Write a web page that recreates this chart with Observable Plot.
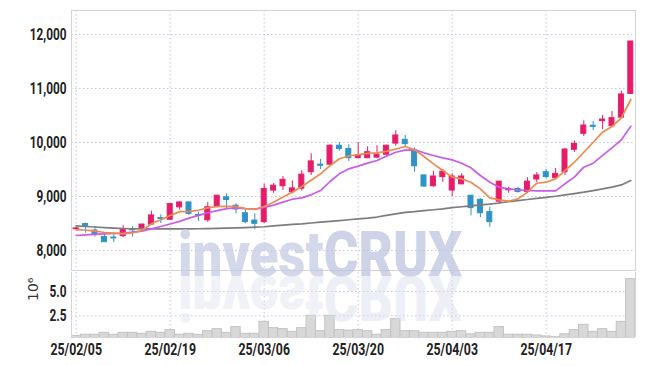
<!DOCTYPE html>
<html><head><meta charset="utf-8">
<script src="https://cdn.jsdelivr.net/npm/d3@7"></script>
<script src="https://cdn.jsdelivr.net/npm/@observablehq/plot@0.6"></script>
<style>
html,body{margin:0;padding:0;background:#fff;}
#wrap{position:relative;width:645px;height:366px;overflow:hidden;background:#fff;}
#wrap svg{display:block;}
#wm{position:absolute;left:0;top:0;pointer-events:none;}
</style></head><body><div id="wrap"></div>
<script>
// ---- data ----
const dates = ["25/02/05","25/02/06","25/02/07","25/02/10","25/02/11","25/02/12","25/02/13","25/02/14","25/02/17","25/02/18",
"25/02/19","25/02/20","25/02/21","25/02/24","25/02/25","25/02/26","25/02/27","25/02/28","25/03/04","25/03/05",
"25/03/06","25/03/07","25/03/10","25/03/11","25/03/12","25/03/13","25/03/14","25/03/17","25/03/18","25/03/19",
"25/03/20","25/03/21","25/03/24","25/03/25","25/03/26","25/03/27","25/03/28","25/03/31","25/04/01","25/04/02",
"25/04/03","25/04/04","25/04/07","25/04/08","25/04/09","25/04/10","25/04/11","25/04/14","25/04/15","25/04/16",
"25/04/17","25/04/18","25/04/21","25/04/22","25/04/23","25/04/24","25/04/25","25/04/28","25/04/29","25/04/30"];
const open  = [8395,8490,8370,8250,8240,8265,8390,8415,8480,8600, 8570,8800,8890,8660,8560,8815,8985,8830,8690,8555,
               8525,9110,9190,9080,9145,9450,9590,9590,9940,9880, 9710,9710,9720,9775,9980,10050,9850,9390,9190,9360,
               9110,9225,9015,8940,8710,8905,9115,9140,9085,9315, 9450,9340,9450,9865,10160,10310,10395,10300,10460,10900];
const high  = [8430,8505,8445,8320,8300,8460,8440,8490,8730,8660, 8870,8900,8900,8710,8890,9020,9050,8865,8745,8680,
               9230,9240,9370,9290,9480,9790,9685,9960,10000,9960, 10000,9920,9940,9950,10220,10130,9900,9400,9465,9500,
               9420,9420,9020,8960,8800,9280,9170,9170,9350,9445, 9500,9520,9890,10030,10400,10390,10500,10575,10950,11870];
const low   = [8380,8320,8250,8150,8150,8240,8250,8380,8470,8500, 8560,8750,8650,8540,8520,8790,8770,8680,8500,8385,
               8500,9060,9110,9050,9100,9390,9500,9570,9840,9650, 9700,9700,9700,9740,9930,9915,9450,9170,9170,9260,
               9000,9220,8640,8610,8430,8850,9060,9060,9070,9260, 9330,9330,9390,9815,10110,10220,10240,10290,10440,10900];
const close = [8410,8440,8295,8155,8225,8385,8375,8480,8650,8585, 8860,8890,8680,8645,8800,9015,8935,8760,8525,8495,
               9140,9200,9310,9150,9405,9650,9570,9940,9880,9710, 9760,9820,9775,9940,10130,9970,9560,9185,9370,9460,
               9370,9370,8785,8690,8525,9275,9135,9085,9275,9390, 9360,9420,9870,9975,10315,10290,10425,10450,10890,11870];
const ma5   = [8383,8380,8358,8333,8321,8309,8325,8370,8494,8568, 8648,8720,8725,8745,8790,8815,8820,8815,8775,8760,
               8815,8895,8990,9080,9185,9300,9420,9570,9700,9750, 9775,9800,9810,9835,9880,9925,9864,9741,9605,9481,
               9358,9327,9265,9142,8975,8938,8913,8957,9080,9246, 9265,9327,9481,9635,9820,10005,10191,10296,10457,10796];
const ma20  = [8278,8290,8300,8309,8315,8321,8340,8358,8400,8444, 8490,8540,8600,8650,8700,8740,8775,8790,8775,8765,
               8800,8840,8895,8950,8975,9031,9111,9278,9420,9512, 9562,9617,9667,9747,9820,9860,9864,9809,9760,9716,
               9679,9617,9531,9389,9265,9173,9142,9124,9111,9105, 9105,9105,9235,9358,9543,9617,9760,9901,10050,10300];
const ma60  = [8455,8445,8435,8425,8415,8408,8403,8401,8400,8400, 8400,8401,8402,8403,8405,8410,8415,8420,8425,8432,
               8440,8455,8470,8485,8495,8510,8525,8540,8555,8570, 8585,8600,8620,8650,8680,8705,8720,8740,8755,8772,
               8795,8810,8825,8845,8860,8880,8905,8925,8945,8965, 8985,9005,9030,9055,9080,9110,9140,9175,9215,9296];
const volume = [0.44,0.55,0.55,0.75,0.55,0.75,0.75,0.65,0.85,0.75, 1.03,0.55,0.65,0.55,0.92,1.13,0.75,1.34,0.65,0.65,
                1.88,1.23,1.13,0.85,1.23,2.50,0.92,2.50,1.03,0.98, 1.03,0.92,0.55,1.03,2.16,0.92,0.92,0.75,0.75,0.75,
                0.85,0.92,0.60,0.75,0.75,1.34,0.55,0.55,0.55,0.48, 0.38,0.30,0.60,1.03,1.57,0.85,1.13,0.85,1.88,6.27]; // x 10^6
const xTicks = [0,10,20,30,40,50];
const priceTicks = [8000,9000,10000,11000,12000];
const volTicks = [2.5,5.0];
const maSeries = [{name:"MA60", values:ma60, color:"#7d7d7d"},{name:"MA20", values:ma20, color:"#c95ce8"},{name:"MA5", values:ma5, color:"#ee8a50"}];

// ---- build ----
const RED = "#e61c6a", BLUE = "#2e93c8", GRID = "#c6c6dc", FRAME = "#d3d3dc";
const candles = dates.map((d, i) => ({i, date: d, open: open[i], high: high[i], low: low[i], close: close[i]}));
const ups = candles.filter(d => d.close >= d.open);
const downs = candles.filter(d => d.close < d.open);
const idx = dates.map((d, i) => i);
const xDomain = [-0.5, dates.length - 0.5];
const FONT = "Roboto, 'DejaVu Sans', sans-serif";
const W = 645, ML = 71, MR = 10;
const dash = {stroke: GRID, strokeDasharray: "1.5,2.5", strokeWidth: 1};
const bodyOpts = (color) => ({x1: d => d.i - 0.5, x2: d => d.i + 0.5, y1: "open", y2: "close",
  insetLeft: 2.2, insetRight: 2.2, fill: color, stroke: color, strokeWidth: 1});
const axisStyle = {fontFamily: FONT, fontSize: "16px", fontWeight: "bold", color: "#222", background: "transparent", overflow: "visible"};

const price = Plot.plot({
  width: W, height: 271, marginLeft: ML, marginRight: MR, marginTop: 10, marginBottom: 1,
  style: axisStyle,
  x: {domain: xDomain, axis: null},
  y: {domain: [7630, 12444], ticks: priceTicks, tickSize: 0, tickPadding: 5, tickFormat: d3.format(","), label: null},
  marks: [
    Plot.ruleY(priceTicks, dash),
    Plot.ruleX(xTicks, dash),
    Plot.ruleX(ups, {x: "i", y1: "low", y2: "high", stroke: RED, strokeWidth: 1}),
    Plot.ruleX(downs, {x: "i", y1: "low", y2: "high", stroke: BLUE, strokeWidth: 1}),
    Plot.rect(ups, bodyOpts(RED)),
    Plot.rect(downs, bodyOpts(BLUE)),
    ...maSeries.map(s => Plot.line(idx, {x: i => i, y: i => s.values[i], stroke: s.color, strokeWidth: 1.7, curve: "linear"})),
    Plot.frame({stroke: FRAME})
  ]
});

const vol = Plot.plot({
  width: W, height: 95, marginLeft: ML, marginRight: MR, marginTop: 1, marginBottom: 29,
  style: axisStyle,
  x: {domain: xDomain, ticks: xTicks, tickFormat: i => dates[i], tickSize: 0, tickPadding: 6, label: null},
  y: {domain: [0.27, 6.95], ticks: volTicks, tickFormat: d3.format(".1f"), tickSize: 0, tickPadding: 5, label: null},
  marks: [
    Plot.ruleY(volTicks, dash),
    Plot.ruleX(xTicks, dash),
    Plot.rect(idx, {x1: i => i - 0.5, x2: i => i + 0.5, y1: 0, y2: i => volume[i], fill: "#d8d8d8", stroke: "#c3c3c3", strokeWidth: 1, clip: true}),
    Plot.ruleX([xDomain[0], xDomain[1]], {stroke: FRAME}),
    Plot.ruleY([0.27], {stroke: FRAME}),
    Plot.text(["10⁶"], {frameAnchor: "left", dx: -38, dy: -4, rotate: -90, fontWeight: "normal", fontSize: 14, fill: "#333", fontFamily: "DejaVu Sans"})
  ]
});

// condense the axis tick labels (reference uses a narrow typeface)
for (const svg of [price, vol]) {
  svg.querySelectorAll("text").forEach(t => {
    if (t.textContent === "10⁶") return;
    const k = t.textContent.includes("/") ? 0.77 : 0.74;
    const tr = t.getAttribute("transform") || "";
    t.setAttribute("transform", (tr + ` scale(${k},1)`).trim());
  });
}

const wrap = document.getElementById("wrap");
wrap.appendChild(price);
wrap.appendChild(vol);

// watermark
const ns = "http://www.w3.org/2000/svg";
const wm = document.createElementNS(ns, "svg");
wm.setAttribute("id", "wm"); wm.setAttribute("width", 645); wm.setAttribute("height", 366);
function wmText(g, c1, c2) {
  const t = document.createElementNS(ns, "text");
  t.setAttribute("x", 178); t.setAttribute("y", 276);
  t.setAttribute("font-family", "Roboto, 'Open Sans', sans-serif");
  t.setAttribute("font-size", 63);
  t.setAttribute("font-weight", 900);
  t.setAttribute("textLength", 284); t.setAttribute("lengthAdjust", "spacingAndGlyphs");
  const a = document.createElementNS(ns, "tspan"); a.setAttribute("fill", c1); a.textContent = "invest";
  const b = document.createElementNS(ns, "tspan"); b.setAttribute("fill", c2); b.textContent = "CRUX";
  t.appendChild(a); t.appendChild(b); g.appendChild(t);
}
const g1 = document.createElementNS(ns, "g"); g1.setAttribute("opacity", 0.75); wmText(g1, "#c6cce5", "#bec5e1");
const g2 = document.createElementNS(ns, "g"); g2.setAttribute("opacity", 0.45); g2.setAttribute("transform", "translate(0,552) scale(1,-1)"); wmText(g2, "#e0e3f0", "#d9ddee");
wm.appendChild(g1); wm.appendChild(g2);
wrap.appendChild(wm);
</script></body></html>
